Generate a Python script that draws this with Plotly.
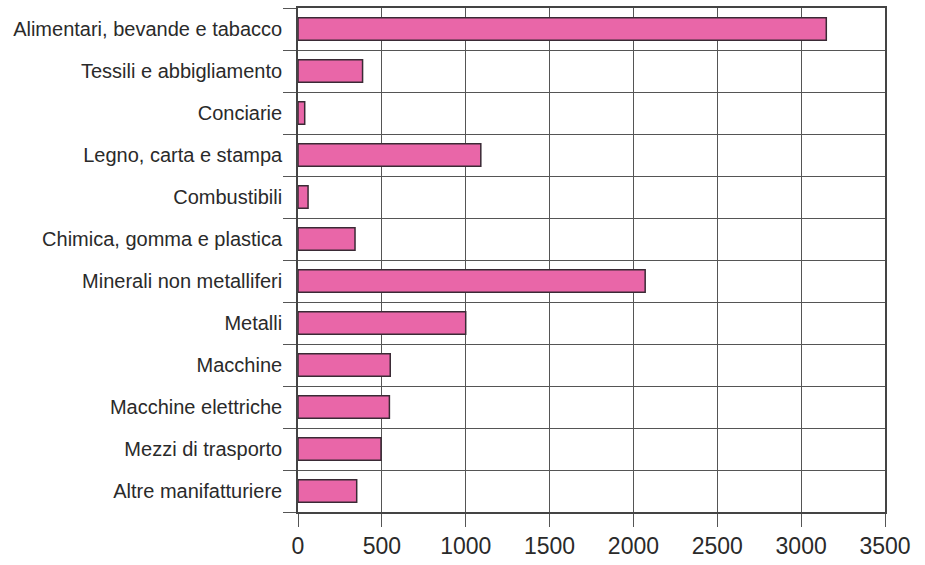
import plotly.graph_objects as go

categories = [
    "Alimentari, bevande e tabacco",
    "Tessili e abbigliamento",
    "Conciarie",
    "Legno, carta e stampa",
    "Combustibili",
    "Chimica, gomma e plastica",
    "Minerali non metalliferi",
    "Metalli",
    "Macchine",
    "Macchine elettriche",
    "Mezzi di trasporto",
    "Altre manifatturiere",
]
values = [3150, 385, 40, 1090, 60, 340, 2070, 1000, 550, 545, 495, 350]
x_ticks = [0, 500, 1000, 1500, 2000, 2500, 3000, 3500]

fig = go.Figure(go.Bar(
    x=values,
    y=categories,
    orientation="h",
    width=0.54,
    marker=dict(color="#E966A8", line=dict(color="#3a2a35", width=1.5)),
))

fig.update_layout(
    width=925, height=565,
    margin=dict(l=298, r=40, t=6, b=51),
    paper_bgcolor="white",
    plot_bgcolor="white",
    showlegend=False,
    font=dict(family="Liberation Sans, Arial", color="#2a2a2a"),
)
fig.update_xaxes(
    range=[0, 3500],
    tickvals=x_ticks,
    ticktext=[str(v) for v in x_ticks],
    showgrid=True, gridcolor="#555555", gridwidth=1.3,
    ticks="outside", ticklen=13, tickcolor="#555555", tickwidth=1.3,
    showline=True, linecolor="#444444", linewidth=1.6, mirror=True,
    tickfont=dict(size=23, color="#2a2a2a"),
    zeroline=False,
)
fig.update_yaxes(
    type="category",
    categoryorder="array",
    categoryarray=categories[::-1],
    range=[-0.5, len(categories) - 0.5],
    tickson="boundaries",
    showgrid=True, gridcolor="#555555", gridwidth=1.3,
    ticks="outside", ticklen=13, tickcolor="#555555", tickwidth=1.3,
    showline=True, linecolor="#444444", linewidth=1.6, mirror=True,
    tickfont=dict(size=20, color="#2a2a2a"),
    ticklabelstandoff=10,
)

fig.write_html(
    "out.html",
    config={"displayModeBar": False},
    post_script="document.body.style.margin='0';",
)
